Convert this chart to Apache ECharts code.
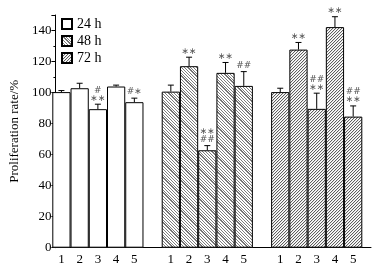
<!DOCTYPE html>
<html><head><meta charset="utf-8">
<script src="https://cdn.jsdelivr.net/npm/echarts@6/dist/echarts.min.js"></script>
<style>html,body{margin:0;padding:0;background:#fff}#c{width:382px;height:269px}</style>
</head><body><div id="c"></div>
<script>
var groups = ['24 h', '48 h', '72 h'];
var treatments = ['1', '2', '3', '4', '5'];
var yTicks = [0, 20, 40, 60, 80, 100, 120, 140];
var mean24 = [100.3, 102.8, 89.3, 103.9, 93.8];
var top24 = [101.3, 106.0, 92.5, 104.8, 96.4];
var mark24 = ['', '', '#\n∗∗', '', '#∗'];
var mean48 = [100.6, 117.0, 62.8, 112.7, 104.3];
var top48 = [104.8, 122.8, 65.8, 119.4, 113.5];
var mark48 = ['', '∗∗', '∗∗\n##', '∗∗', '##'];
var mean72 = [100.3, 127.7, 89.5, 142.2, 84.5];
var top72 = [102.8, 132.3, 99.6, 148.9, 91.4];
var mark72 = ['', '∗∗', '##\n∗∗', '∗∗', '##\n∗∗'];

function makePattern(kind) {
  var n = 15, c = document.createElement('canvas');
  c.width = n; c.height = n;
  var ctx = c.getContext('2d');
  var img = ctx.createImageData(n, n);
  for (var y = 0; y < n; y++) for (var x = 0; x < n; x++) {
    var v = 255;
    if (kind === 48) {
      var d = ((x - y) % n + n) % n;
      if (d % 3 === 0) v = 125;
      if (d === 1) v = 110;
    } else {
      var s = (x + y) % 3;
      if (s === 0) v = 95;
      else if (s === 1) v = 225;
    }
    var i = (y * n + x) * 4;
    img.data[i] = img.data[i + 1] = img.data[i + 2] = v; img.data[i + 3] = 255;
  }
  ctx.putImageData(img, 0, 0);
  return { image: c, repeat: 'repeat' };
}

var cats = [];
var means = [mean24, mean48, mean72], tops = [top24, top48, top72], marks = [mark24, mark48, mark72];
var seriesData = [[], [], []];
var errData = [];
for (var g = 0; g < 3; g++) {
  for (var t = 0; t < 5; t++) {
    var idx = cats.length;
    cats.push(treatments[t]);
    for (var k = 0; k < 3; k++) seriesData[k].push(k === g ? means[g][t] : '-');
    errData.push([idx, means[g][t], tops[g][t], marks[g][t]]);
  }
  if (g < 2) { cats.push(''); for (var k2 = 0; k2 < 3; k2++) seriesData[k2].push('-'); }
}
var fills = ['#ffffff', makePattern(48), makePattern(72)];
var serif = 'Liberation Serif';

var chart = echarts.init(document.getElementById('c'));
var series = groups.map(function (name, k) {
  return {
    name: name, type: 'bar', xAxisIndex: 1, yAxisIndex: 1,
    data: seriesData[k], barGap: '-100%', barCategoryGap: 0,
    itemStyle: { color: fills[k], borderColor: '#000', borderWidth: 1 },
    emphasis: { disabled: true }, silent: true
  };
});
series.push({
  type: 'custom', xAxisIndex: 1, yAxisIndex: 1, silent: true, z: 5,
  data: errData,
  renderItem: function (params, api) {
    var x = api.value(0);
    var p0 = api.coord([x, api.value(1)]);
    var p1 = api.coord([x, api.value(2)]);
    var cw = 3;
    var children = [
      { type: 'line', shape: { x1: p0[0], y1: p0[1], x2: p1[0], y2: p1[1] }, style: { stroke: '#000', lineWidth: 1 } },
      { type: 'line', shape: { x1: p1[0] - cw, y1: p1[1], x2: p1[0] + cw, y2: p1[1] }, style: { stroke: '#000', lineWidth: 1 } }
    ];
    var txt = errData[params.dataIndex][3];
    if (txt) {
      children.push({ type: 'text', x: p1[0], y: p1[1] - 2, style: { text: txt, fill: '#555', font: '9px DejaVu Sans', align: 'center', verticalAlign: 'bottom', lineHeight: 8 } });
    }
    return { type: 'group', children: children };
  }
});

chart.setOption({
  animation: false,
  legend: {
    data: groups.map(function (n) { return { name: n, icon: 'rect' }; }),
    orient: 'vertical', left: 56, top: 12, itemWidth: 10, itemHeight: 10, itemGap: 3,
    textStyle: { fontFamily: serif, fontSize: 14, color: '#000' }, selectedMode: false
  },
  grid: [
    { left: 43, right: 11, top: 15, bottom: 21.3 },
    { left: 52.3, right: 19.7, top: 15, bottom: 21.3 }
  ],
  xAxis: [
    { type: 'category', gridIndex: 0, data: groups, axisLine: { lineStyle: { color: '#000' } },
      axisTick: { inside: true, length: 4, lineStyle: { color: '#000' } }, axisLabel: { show: false } },
    { type: 'category', gridIndex: 1, data: cats, axisLine: { show: false }, axisTick: { show: false },
      axisLabel: { interval: 0, margin: 5, fontFamily: serif, fontSize: 13, color: '#000' } }
  ],
  yAxis: [
    { type: 'value', gridIndex: 0, min: 0, max: 150, interval: 20, name: 'Proliferation rate/%',
      nameLocation: 'middle', nameGap: 29, nameTextStyle: { fontFamily: serif, fontSize: 13, color: '#000' },
      axisLine: { show: true, lineStyle: { color: '#000' } },
      axisTick: { show: true, length: 4, lineStyle: { color: '#000' } },
      minorTick: { show: true, splitNumber: 2, length: 2, lineStyle: { color: '#000' } },
      splitLine: { show: false },
      axisLabel: { fontFamily: serif, fontSize: 13, color: '#000', margin: 4,
        formatter: function (v) { return yTicks.indexOf(v) >= 0 ? String(v) : ''; } } },
    { type: 'value', gridIndex: 1, min: 0, max: 150, show: false }
  ],
  series: series
});
</script></body></html>
